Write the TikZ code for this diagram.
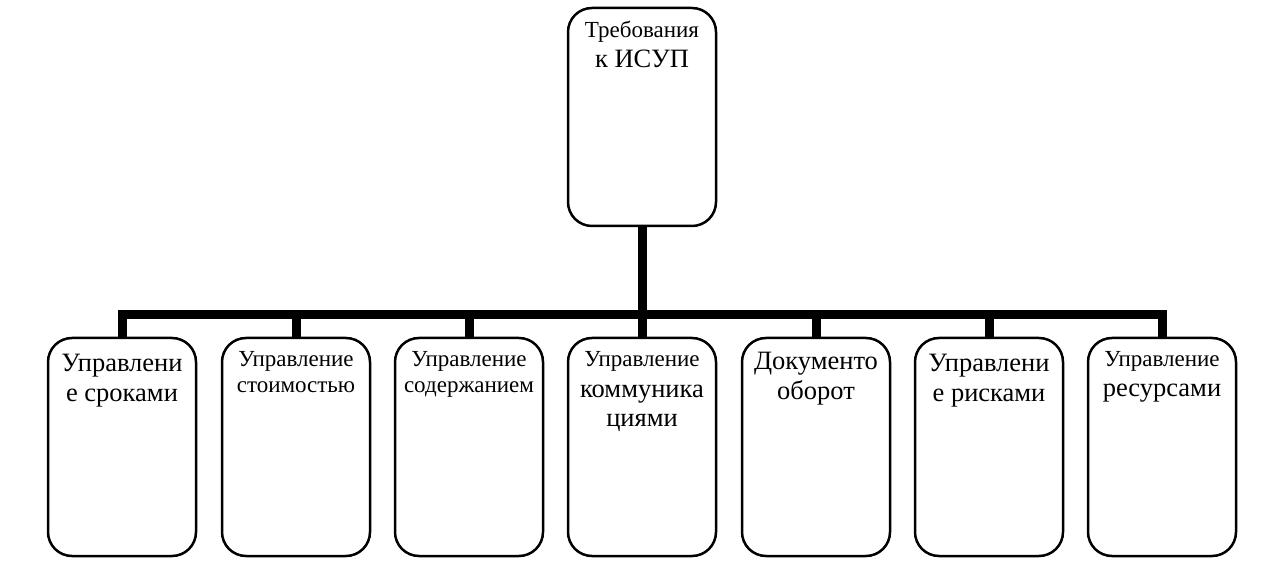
\documentclass[tikz,border=0pt]{standalone}
\usepackage{fontspec}
\setmainfont{Liberation Serif}
\begin{document}
\begin{tikzpicture}[x=1pt,y=1pt,
  box/.style={draw,line width=2.5pt,rounded corners=24pt,fill=white,minimum width=148pt,minimum height=218pt,inner sep=0pt},
  conn/.style={line width=9pt,line join=miter},
  sm/.style={anchor=base,inner sep=0pt,font=\fontsize{23}{26}\selectfont},
  lg/.style={anchor=base,inner sep=0pt,font=\fontsize{26.5}{30}\selectfont}]
\useasboundingbox (0,0) rectangle (1266,565);
\node[box] (top) at (642,448) {};
\node[box] (b1) at (122,118) {};
\node[box] (b2) at (296,118) {};
\node[box] (b3) at (469,118) {};
\node[box] (b4) at (642,118) {};
\node[box] (b5) at (816,118) {};
\node[box] (b6) at (989,118) {};
\node[box] (b7) at (1162,118) {};
\coordinate (bus) at (642,250);
% connectors
\draw[conn] (b1.north) -- (b1.north |- bus) -- (b7.north |- bus) -- (b7.north);
\draw[conn] (top.south) -- (bus);
\foreach \b in {b2,b3,b4,b5,b6}{\draw[conn] (\b.north |- bus) -- (\b.north);}
% texts
\node[sm] (t1) at (642,527) {Требования};
\node[lg] (t2) at (642,497) {к ИСУП};
\node[lg] (l11) at (122,193) {Управлени};
\node[lg] (l12) at (122,163) {е сроками};
\node[sm] (l21) at (296,198) {Управление};
\node[sm] (l22) at (296,172) {стоимостью};
\node[sm] (l31) at (469,198) {Управление};
\node[sm] (l32) at (469,172) {содержанием};
\node[sm] (l41) at (642,198) {Управление};
\node[lg] (l42) at (642,167) {коммуника};
\node[lg] (l43) at (642,138) {циями};
\node[lg] (l51) at (816,195) {Документо};
\node[lg] (l52) at (816,165) {оборот};
\node[lg] (l61) at (989,193) {Управлени};
\node[lg] (l62) at (989,163) {е рисками};
\node[sm] (l71) at (1162,198) {Управление};
\node[lg] (l72) at (1162,168) {ресурсами};
\end{tikzpicture}
\end{document}
